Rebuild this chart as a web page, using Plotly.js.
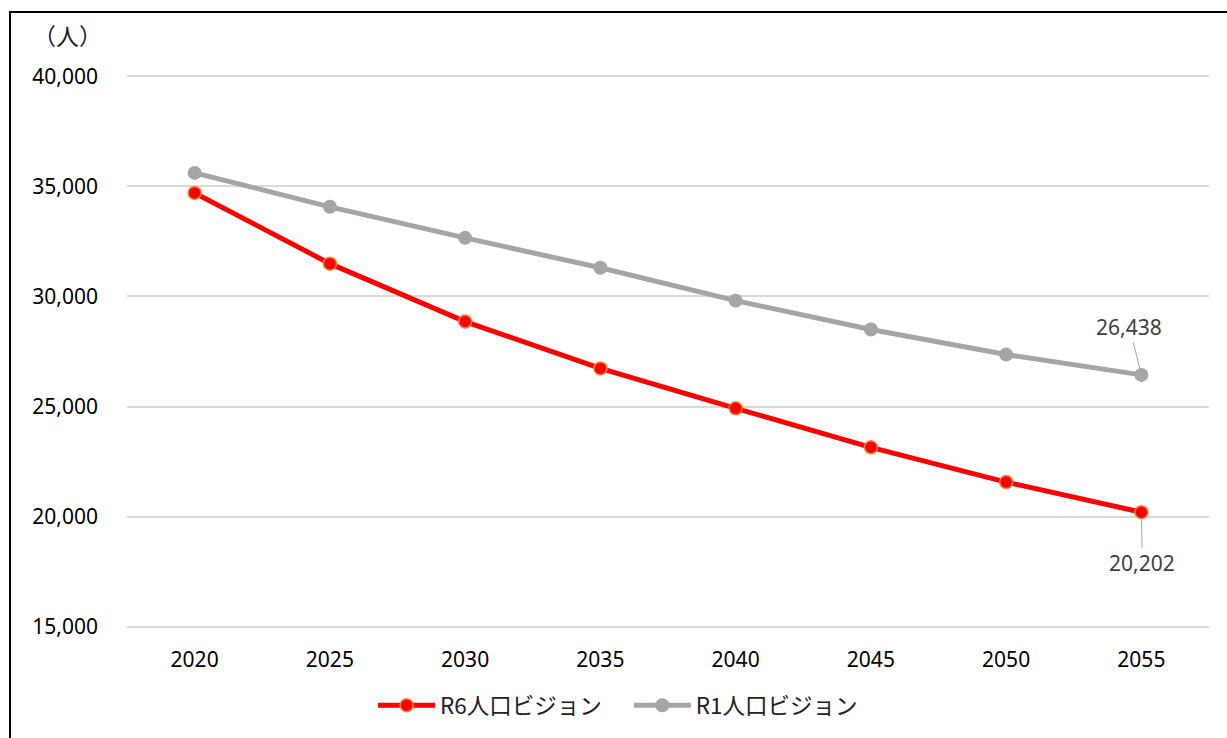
<!DOCTYPE html>
<html>
<head>
<meta charset="utf-8">
<script src="https://cdn.plot.ly/plotly-3.0.1.min.js"></script>
<style>
  html, body { margin: 0; padding: 0; width: 1227px; height: 738px; overflow: hidden; background: #fff; }
  #chart { position: absolute; left: 0; top: 0; width: 1227px; height: 738px; }
  #frame { position: absolute; left: 9px; top: 11px; width: 1400px; height: 900px; border: 2px solid #000; pointer-events: none; box-sizing: border-box; }
</style>
</head>
<body>
<div id="chart"></div>
<div id="frame"></div>
<script>
const years = ["2020", "2025", "2030", "2035", "2040", "2045", "2050", "2055"];
const r6Values = [34700, 31490, 28860, 26730, 24920, 23150, 21570, 20202];
const r1Values = [35610, 34070, 32660, 31300, 29810, 28500, 27360, 26438];
const seriesNames = ["R6人口ビジョン", "R1人口ビジョン"];
const yTicks = [15000, 20000, 25000, 30000, 35000, 40000];
const yTickText = ["15,000", "20,000", "25,000", "30,000", "35,000", "40,000"];

const numFont = '"Noto Sans", "Open Sans", sans-serif';
const jpFont = '"Noto Sans CJK JP", "Noto Sans", sans-serif';

const traces = [
  {
    x: years, y: r6Values, name: seriesNames[0], type: 'scatter', mode: 'lines+markers',
    legend: 'legend',
    line: { color: '#FF0000', width: 5 },
    marker: { color: '#FF0000', size: 13, line: { color: '#F0883A', width: 1.5 } }
  },
  {
    x: years, y: r1Values, name: seriesNames[1], type: 'scatter', mode: 'lines+markers',
    legend: 'legend2',
    line: { color: '#A5A5A5', width: 5 },
    marker: { color: '#A5A5A5', size: 14, line: { width: 0 } }
  }
];

const last = years.length - 1;
const legendFont = { family: jpFont, size: 22.5, color: '#222' };
const layout = {
  width: 1227, height: 738,
  margin: { l: 127, r: 18, t: 74, b: 108 },
  paper_bgcolor: '#fff', plot_bgcolor: '#fff',
  showlegend: true,
  legend: {
    orientation: 'h', x: 0.2274, xanchor: 'left', y: -0.136, yanchor: 'middle',
    font: legendFont, itemwidth: 57, bgcolor: 'rgba(0,0,0,0)'
  },
  legend2: {
    orientation: 'h', x: 0.4638, xanchor: 'left', y: -0.136, yanchor: 'middle',
    font: legendFont, itemwidth: 57, bgcolor: 'rgba(0,0,0,0)'
  },
  xaxis: {
    type: 'category', range: [-0.5, 7.5], showgrid: false, zeroline: false,
    showline: false, ticks: '', ticklabelstandoff: 16,
    tickfont: { family: numFont, size: 21, color: '#000' }
  },
  yaxis: {
    range: [14900, 40100], tickvals: yTicks, ticktext: yTickText,
    showgrid: true, gridcolor: '#D9D9D9', gridwidth: 2, zeroline: false,
    showline: false, ticks: '', ticklabelstandoff: 28,
    tickfont: { family: numFont, size: 21, color: '#000' }
  },
  annotations: [
    {
      xref: 'paper', yref: 'paper', x: -0.0886, y: 1.07, xanchor: 'left', yanchor: 'middle',
      text: '（人）', showarrow: false,
      font: { family: jpFont, size: 23, color: '#222' }
    },
    {
      x: last, y: r1Values[last], text: r1Values[last].toLocaleString('en-US'),
      showarrow: true, arrowhead: 0, arrowwidth: 1, arrowcolor: '#A5A5A5',
      ax: -12, ay: -48, standoff: 6,
      font: { family: numFont, size: 21, color: '#404040' }
    },
    {
      x: last, y: r6Values[last], text: r6Values[last].toLocaleString('en-US'),
      showarrow: true, arrowhead: 0, arrowwidth: 1, arrowcolor: '#A5A5A5',
      ax: 1, ay: 51, standoff: 6,
      font: { family: numFont, size: 21, color: '#404040' }
    }
  ]
};

Plotly.newPlot('chart', traces, layout, { displayModeBar: false, staticPlot: true });
</script>
</body>
</html>
